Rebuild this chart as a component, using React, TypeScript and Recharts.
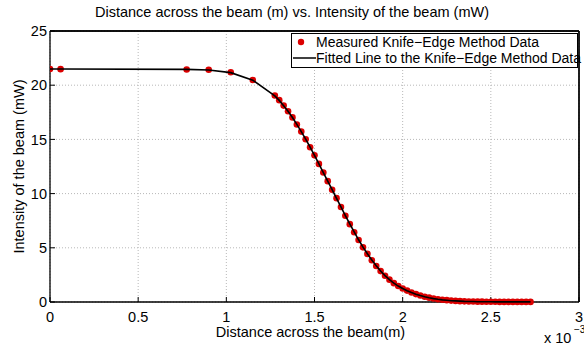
import React from "react";
import {
  ComposedChart,
  Scatter,
  XAxis,
  YAxis,
  CartesianGrid,
  ReferenceLine,
  Label,
} from "recharts";

// Distance across the beam, in units of 1e-3 m
const distanceMm = [
  0, 0.06, 0.775, 0.9, 1.025, 1.15, 1.275, 1.3, 1.325, 1.35, 1.375, 1.4, 1.425,
  1.45, 1.475, 1.5, 1.525, 1.55, 1.575, 1.6, 1.625, 1.65, 1.675, 1.7, 1.725,
  1.75, 1.775, 1.8, 1.825, 1.85, 1.875, 1.9, 1.925, 1.95, 1.975, 2.0, 2.025,
  2.05, 2.075, 2.1, 2.125, 2.15, 2.175, 2.2, 2.225, 2.25, 2.275, 2.3, 2.325,
  2.35, 2.375, 2.4, 2.425, 2.45, 2.475, 2.5, 2.525, 2.55, 2.575, 2.6, 2.625,
  2.65, 2.675, 2.7, 2.725,
];

// Measured intensity (mW)
const measuredMw = [
  21.5, 21.48, 21.45, 21.42, 21.2, 20.48, 19.05, 18.62, 18.12, 17.6, 17.03,
  16.38, 15.72, 15.02, 14.28, 13.53, 12.74, 11.94, 11.15, 10.35, 9.58, 8.76,
  7.95, 7.18, 6.44, 5.72, 5.04, 4.44, 3.85, 3.32, 2.85, 2.42, 2.06, 1.74, 1.48,
  1.25, 1.05, 0.88, 0.73, 0.6, 0.49, 0.4, 0.32, 0.26, 0.21, 0.17, 0.13, 0.1,
  0.08, 0.06, 0.05, 0.04, 0.03, 0.03, 0.02, 0.02, 0.02, 0.01, 0.01, 0.01, 0.01,
  0.01, 0.01, 0.01, 0.01,
];

// Fitted line (mW)
const fittedMw = [
  21.5, 21.5, 21.46, 21.4, 21.16, 20.46, 19.02, 18.6, 18.11, 17.59, 17.02,
  16.38, 15.72, 15.02, 14.28, 13.52, 12.74, 11.94, 11.15, 10.36, 9.57, 8.77,
  7.97, 7.2, 6.46, 5.74, 5.06, 4.45, 3.87, 3.34, 2.86, 2.43, 2.06, 1.74, 1.47,
  1.24, 1.04, 0.87, 0.72, 0.59, 0.48, 0.39, 0.31, 0.25, 0.2, 0.16, 0.12, 0.1,
  0.08, 0.06, 0.05, 0.04, 0.03, 0.02, 0.02, 0.02, 0.01, 0.01, 0.01, 0.01, 0.01,
  0.01, 0.01, 0.01, 0.01,
];

const xTicks = [0, 0.5, 1, 1.5, 2, 2.5, 3];
const yTicks = [0, 5, 10, 15, 20, 25];

const title = "Distance across the beam (m) vs. Intensity of the beam (mW)";
const xLabel = "Distance across the beam(m)";
const yLabel = "Intensity of the beam (mW)";
const measuredName = "Measured Knife\u2212Edge Method Data";
const fittedName = "Fitted Line to the Knife\u2212Edge Method Data";

const measuredData = distanceMm.map((x, i) => ({ x, y: measuredMw[i] }));
const fittedData = distanceMm.map((x, i) => ({ x, y: fittedMw[i] }));

const FONT = "'Liberation Sans', Arial, Helvetica, sans-serif";
const RED = "#dc0000";

const LegendBox = () => (
  <div
    style={{
      position: "absolute",
      top: 33,
      left: 291,
      border: "1px solid #000",
      background: "#fff",
      fontFamily: FONT,
      fontSize: 14,
      color: "#000",
      padding: "0px 0 1px 0",
      width: 287,
      boxSizing: "border-box",
      lineHeight: "16px",
      zIndex: 2,
    }}
  >
    <div style={{ display: "flex", alignItems: "center", height: 16 }}>
      <svg width={24} height={16} style={{ flex: "none" }}>
        <circle cx={9} cy={8} r={3.2} fill={RED} />
      </svg>
      <span style={{ whiteSpace: "nowrap" }}>{measuredName}</span>
    </div>
    <div style={{ display: "flex", alignItems: "center", height: 16 }}>
      <svg width={24} height={16} style={{ flex: "none" }}>
        <line x1={1} y1={8} x2={24} y2={8} stroke="#000" strokeWidth={1.5} />
      </svg>
      <span style={{ whiteSpace: "nowrap" }}>{fittedName}</span>
    </div>
  </div>
);

const ExponentLabel = (props: any) => {
  const vb = props.viewBox || {};
  const right = (vb.x || 0) + (vb.width || 0);
  const top = vb.y || 0;
  return (
    <text fontFamily={FONT} fill="#000">
      <tspan x={right - 35} y={top + 41} fontSize={14.5}>
        x 10
      </tspan>
      <tspan x={right - 5} y={top + 31} fontSize={10}>
        {"\u22123"}
      </tspan>
    </text>
  );
};

const NoShape = () => <g />;

export default function App() {
  return (
    <div
      style={{
        position: "absolute",
        left: 0,
        top: 0,
        width: 584,
        height: 351,
        background: "#fff",
      }}
    >
      <div
        style={{
          position: "absolute",
          left: 0,
          top: 4,
          width: 584,
          textAlign: "center",
          fontFamily: FONT,
          fontSize: 14.5,
          color: "#000",
          lineHeight: "17px",
        }}
      >
        {title}
      </div>
      <ComposedChart
        width={584}
        height={351}
        margin={{ top: 30, right: 4, bottom: 13, left: 10 }}
        style={{ fontFamily: FONT }}
      >
        <CartesianGrid
          stroke="#b8b8b8"
          strokeDasharray="1 2"
          verticalValues={xTicks}
          horizontalValues={yTicks}
        />
        <XAxis
          type="number"
          dataKey="x"
          domain={[0, 3]}
          ticks={xTicks}
          allowDataOverflow
          axisLine={{ stroke: "#000", strokeWidth: 1.3 }}
          tickLine={{ stroke: "#000" }}
          tickSize={-5}
          tickMargin={15}
          height={36}
          tick={{ fill: "#000", fontSize: 14.5, fontFamily: FONT }}
          interval={0}
        >
          <Label
            value={xLabel}
            position="insideBottom"
            offset={1}
            dx={-4}
            style={{ fill: "#000", fontSize: 14.5, fontFamily: FONT }}
          />
          <Label content={ExponentLabel} />
        </XAxis>
        <XAxis
          xAxisId="top"
          orientation="top"
          type="number"
          dataKey="x"
          domain={[0, 3]}
          ticks={xTicks}
          allowDataOverflow
          height={1}
          tick={false}
          tickSize={-5}
          interval={0}
          axisLine={{ stroke: "#000", strokeWidth: 1.3 }}
          tickLine={{ stroke: "#000" }}
        />
        <YAxis
          type="number"
          domain={[0, 25]}
          ticks={yTicks}
          width={40}
          axisLine={{ stroke: "#000", strokeWidth: 1.3 }}
          tickLine={{ stroke: "#000" }}
          tickSize={-5}
          tickMargin={8}
          tick={{ fill: "#000", fontSize: 14.5, fontFamily: FONT }}
          interval={0}
        >
          <Label
            value={yLabel}
            angle={-90}
            position="insideLeft"
            offset={8.5}
            textAnchor="middle"
            style={{ fill: "#000", fontSize: 14.5, fontFamily: FONT, textAnchor: "middle" }}
          />
        </YAxis>
        <YAxis
          yAxisId="right"
          orientation="right"
          type="number"
          domain={[0, 25]}
          ticks={yTicks}
          allowDataOverflow
          width={1}
          tick={false}
          tickSize={-5}
          interval={0}
          axisLine={{ stroke: "#000", strokeWidth: 1.3 }}
          tickLine={{ stroke: "#000" }}
        />
        <ReferenceLine y={25} stroke="#000" strokeWidth={1.3} ifOverflow="extendDomain" />
        <ReferenceLine x={3} stroke="#000" strokeWidth={1.3} ifOverflow="extendDomain" />
        <Scatter
          name={measuredName}
          data={measuredData}
          dataKey="y"
          fill={RED}
          shape={(p: any) => <circle cx={p.cx} cy={p.cy} r={3.3} fill={RED} />}
          isAnimationActive={false}
        />
        <Scatter
          name={fittedName}
          data={fittedData}
          dataKey="y"
          fill="#000"
          line={{ stroke: "#000", strokeWidth: 1.6 }}
          lineType="joint"
          shape={NoShape}
          isAnimationActive={false}
        />
      </ComposedChart>
      <LegendBox />
    </div>
  );
}
